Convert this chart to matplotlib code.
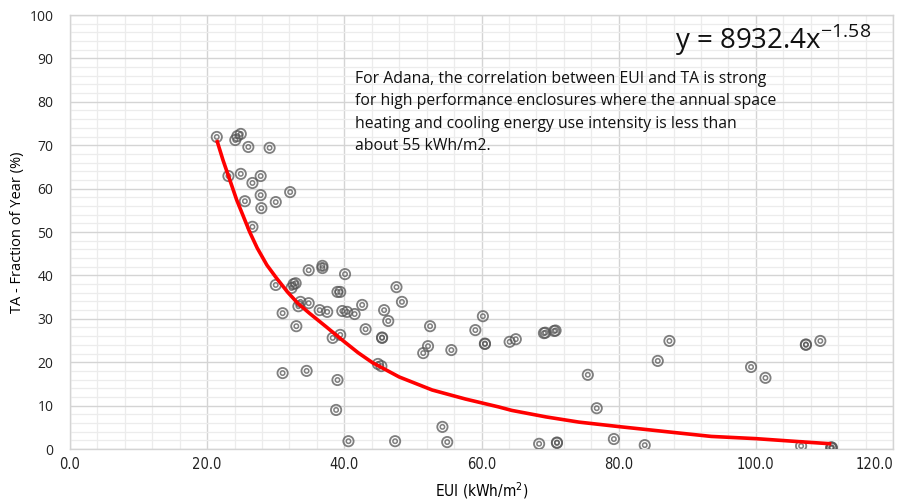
import numpy as np
import matplotlib
matplotlib.use("Agg")
import matplotlib.pyplot as plt
from matplotlib.ticker import MultipleLocator


# data
eui = [21.4, 23.1, 24.1, 24.4, 24.9, 24.9, 25.5, 26.0, 26.6, 26.6,
       27.8, 27.8, 27.9, 29.1, 30.0, 32.1, 30.0, 32.3, 32.6, 32.9,
       34.8, 36.8, 36.8, 40.1, 31.0, 33.6, 33.3, 34.8, 36.4, 37.5,
       39.0, 39.4, 39.7, 40.4, 41.5, 42.6, 43.1, 33.0, 38.3, 39.4,
       31.0, 34.5, 39.0, 38.8, 40.6, 44.9, 45.4, 45.8, 45.5, 45.5,
       46.4, 47.6, 48.4, 47.4, 51.5, 52.2, 52.5, 54.3, 55.0, 55.6,
       59.1, 60.2, 60.5, 60.5, 64.1, 65.0, 69.1, 69.3, 70.6, 70.8,
       68.4, 71.0, 71.0, 75.5, 76.8, 79.3, 83.8, 85.7, 87.4, 99.3,
       101.4, 107.3, 107.3, 109.4, 106.6, 111.0, 111.1, 111.0]
ta = [71.9, 62.9, 71.2, 72.1, 72.6, 63.4, 57.1, 69.6, 61.3, 51.2,
      62.9, 58.5, 55.5, 69.4, 56.9, 59.2, 37.8, 37.1, 38.0, 38.2,
      41.2, 42.2, 41.7, 40.3, 31.3, 33.9, 32.9, 33.6, 32.0, 31.6,
      36.2, 36.2, 31.8, 31.6, 31.1, 33.2, 27.6, 28.3, 25.6, 26.3,
      17.5, 18.0, 15.9, 9.0, 1.8, 19.6, 19.1, 32.0, 25.6, 25.7,
      29.5, 37.3, 33.9, 1.8, 22.1, 23.7, 28.3, 5.1, 1.6, 22.8,
      27.4, 30.6, 24.2, 24.3, 24.7, 25.3, 26.7, 26.8, 27.2, 27.3,
      1.2, 1.4, 1.5, 17.1, 9.4, 2.3, 0.9, 20.3, 24.9, 18.9,
      16.4, 24.0, 24.1, 24.9, 0.7, 0.2, 0.3, 0.4]

# trend line
trend_x = [21.4, 22.3, 23.3, 24.3, 25.2, 26.2, 27.3, 28.7, 30.1, 31.7,
           33.2, 34.9, 37.4, 39.7, 42.0, 44.1, 48.0, 52.8, 57.7, 62.5,
           64.4, 69.4, 74.2, 80.4, 88.7, 93.5, 99.9, 107.2, 111.0]
trend_y = [71.2, 66.6, 62.0, 57.4, 53.9, 50.0, 46.3, 42.4, 39.4, 36.2,
           33.6, 31.3, 28.1, 25.1, 22.2, 19.9, 16.6, 13.6, 11.5, 9.7,
           8.9, 7.4, 6.2, 5.1, 3.7, 2.9, 2.4, 1.6, 1.2]

x_ticks = [0, 20, 40, 60, 80, 100, 120]
x_labels = ['0.0', '20.0', '40.0', '60.0', '80.0', '100.0', '120.0']
y_ticks = [0, 10, 20, 30, 40, 50, 60, 70, 80, 90, 100]

note = ("For Adana, the correlation between EUI and TA is strong\n"
        "for high performance enclosures where the annual space\n"
        "heating and cooling energy use intensity is less than\n"
        "about 55 kWh/m2.")

plt.rcParams['font.family'] = ['Open Sans', 'DejaVu Sans']

fig = plt.figure(figsize=(9.08, 5.04), dpi=100)
ax = fig.add_axes([0.0771, 0.1091, 0.9064, 0.8611])

ax.set_xlim(0, 120)
ax.set_ylim(0, 100)
ax.set_xticks(x_ticks, labels=x_labels, fontsize=10.5, family='DejaVu Sans',
              fontstretch='condensed', color='#222222')
ax.set_yticks(y_ticks, labels=[str(v) for v in y_ticks], fontsize=10,
              color='#222222')
ax.xaxis.set_minor_locator(MultipleLocator(4))
ax.yaxis.set_minor_locator(MultipleLocator(2))
ax.grid(which='major', color='#d4d4d4', lw=1.0)
ax.grid(which='minor', color='#ececec', lw=0.9)
ax.set_axisbelow(True)
for s in ax.spines.values():
    s.set_color('#d4d4d4')
    s.set_linewidth(1.0)
ax.tick_params(which='both', length=0)
ax.tick_params(axis='x', pad=6)
ax.tick_params(axis='y', pad=12)
# keep the last x label inside the figure
ax.get_xticklabels()[-1].set_horizontalalignment('right')

# concentric ring markers
ax.scatter(eui, ta, s=55, facecolors='none', edgecolors='#555555',
           linewidths=1.3, alpha=0.75, zorder=3)
ax.scatter(eui, ta, s=10, facecolors='none', edgecolors='#555555',
           linewidths=1.1, alpha=0.75, zorder=3)

ax.plot(trend_x, trend_y, color='#ff0000', lw=2.6, zorder=4,
        solid_capstyle='butt')

ax.text(0.973, 0.985, r'y = 8932.4x$^{\mathregular{-1.58}}$', transform=ax.transAxes,
        fontsize=20, ha='right', va='top', color='#111111')
ax.text(0.346, 0.872, note, transform=ax.transAxes, fontsize=11.3,
        ha='left', va='top', color='#111111', linespacing=1.54)

ax.set_xlabel('EUI (kWh/m$^{\\mathregular{2}}$)', fontsize=11, labelpad=6,
              family='DejaVu Sans', fontstretch='condensed')
ax.set_ylabel('TA - Fraction of Year (%)', fontsize=10.5, labelpad=3)

fig.savefig('out.png', dpi=100)
